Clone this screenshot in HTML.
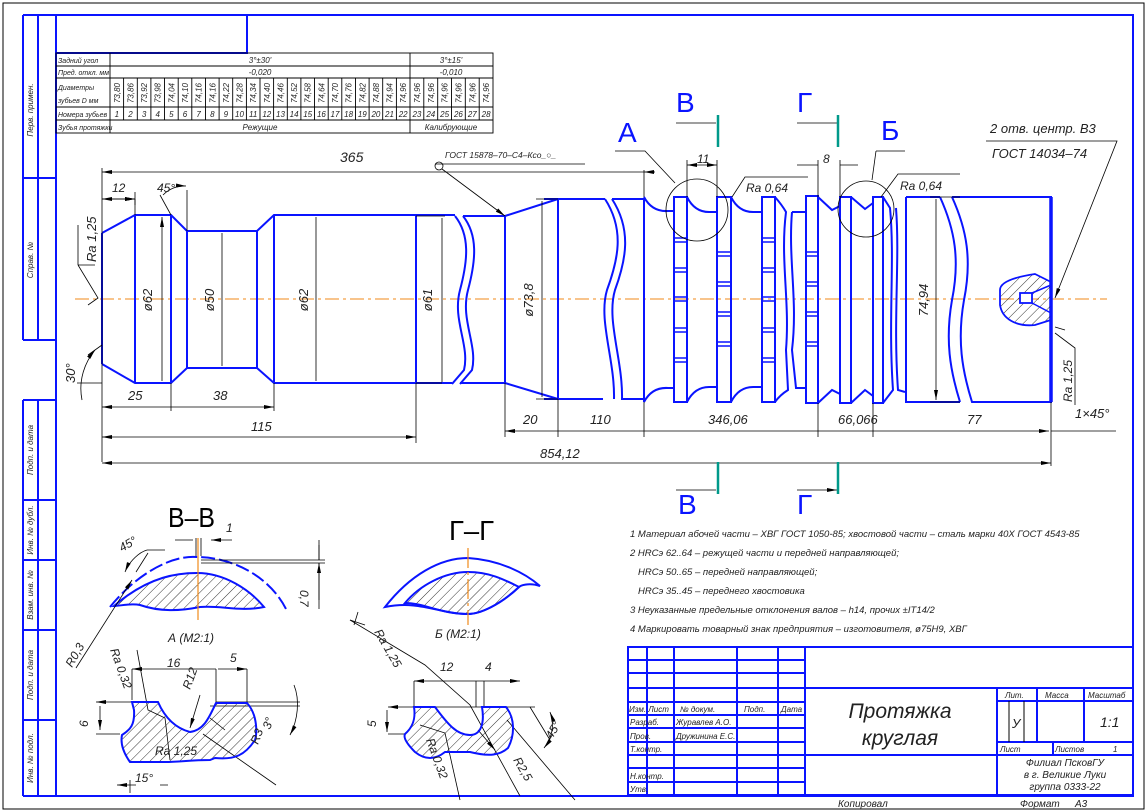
<!DOCTYPE html>
<html><head><meta charset="utf-8"><style>
html,body{margin:0;padding:0;background:#fff}
svg{display:block}
text{font-family:"Liberation Sans","DejaVu Sans",sans-serif;font-style:italic;fill:#222}
.b{stroke:#0a14ff;stroke-width:2;fill:none}
.bt{stroke:#0a14ff;stroke-width:1.5;fill:none}
.k{stroke:#000;stroke-width:0.9;fill:none}
.t{stroke:#000;stroke-width:0.8;fill:none}
.c{stroke:#f08a1a;stroke-width:1;stroke-dasharray:14 4 3 4;fill:none}
.g{stroke:#00998a;stroke-width:2.5}
.s{font-size:12px}
.m{font-size:8px}
.n{font-size:9.5px}
</style></head><body>
<svg width="1147" height="812" viewBox="0 0 1147 812" xmlns="http://www.w3.org/2000/svg">
<defs>
<marker id="a" viewBox="0 0 10 4" refX="10" refY="2" markerWidth="10" markerHeight="4" orient="auto-start-reverse" markerUnits="userSpaceOnUse"><path d="M0,0 L10,2 L0,4z" fill="#000"/></marker>
<pattern id="h" width="7" height="7" patternUnits="userSpaceOnUse" patternTransform="rotate(45)"><line x1="0" y1="0" x2="0" y2="7" stroke="#000" stroke-width="0.8"/></pattern>
</defs>
<rect x="3" y="3" width="1141" height="806" fill="none" stroke="#000" stroke-width="1"/>
<path class="b" d="M56,15 H1133 V796 H23"/>
<path class="b" d="M56,15 V796"/>
<path class="b" d="M23,15 V340 M38,15 V340 M23,15 H56 M23,178 H56 M23,340 H56"/>
<path class="b" d="M23,400 V796 M38,400 V796 M23,400 H56 M23,500 H56 M23,560 H56 M23,630 H56 M23,720 H56"/>
<text class="m" transform="translate(33,110) rotate(-90)" text-anchor="middle">Перв. примен.</text>
<text class="m" transform="translate(33,260) rotate(-90)" text-anchor="middle">Справ. №</text>
<text class="m" transform="translate(33,450) rotate(-90)" text-anchor="middle">Подп. и дата</text>
<text class="m" transform="translate(33,530) rotate(-90)" text-anchor="middle">Инв. № дубл.</text>
<text class="m" transform="translate(33,595) rotate(-90)" text-anchor="middle">Взам. инв. №</text>
<text class="m" transform="translate(33,675) rotate(-90)" text-anchor="middle">Подп. и дата</text>
<text class="m" transform="translate(33,758) rotate(-90)" text-anchor="middle">Инв. № подл.</text>
<path class="b" d="M56,53 H247 V15"/>
<g class="k">
<rect x="56" y="53" width="437" height="80"/>
<path d="M56,66 H493 M56,78 H493 M56,107 H493 M56,120 H493 M110,53 V133 M410,53 V133"/>
<path d="M123.6,78V120M137.3,78V120M150.9,78V120M164.5,78V120M178.2,78V120M191.8,78V120M205.5,78V120M219.1,78V120M232.7,78V120M246.4,78V120M260,78V120M273.6,78V120M287.3,78V120M300.9,78V120M314.5,78V120M328.2,78V120M341.8,78V120M355.5,78V120M369.1,78V120M382.7,78V120M396.4,78V120M423.8,78V120M437.7,78V120M451.5,78V120M465.3,78V120M479.2,78V120"/>
</g>
<g class="m">
<text x="58" y="63" font-size="7">Задний угол</text>
<text x="58" y="75" font-size="7">Пред. откл. мм</text>
<text x="58" y="90" font-size="7">Диаметры</text>
<text x="58" y="103" font-size="7">зубьев D мм</text>
<text x="58" y="117" font-size="7">Номера зубьев</text>
<text x="58" y="130" font-size="7">Зубья протяжки</text>
<text x="260" y="63" text-anchor="middle">3°±30'</text>
<text x="260" y="75" text-anchor="middle">-0,020</text>
<text x="451" y="63" text-anchor="middle">3°±15'</text>
<text x="451" y="75" text-anchor="middle">-0,010</text>
<text x="260" y="130" text-anchor="middle">Режущие</text>
<text x="451" y="130" text-anchor="middle">Калибрующие</text>
</g>
<g class="m" font-size="7.5">
<text transform="translate(120,93) rotate(-90)" text-anchor="middle">73,80</text>
<text transform="translate(133.5,93) rotate(-90)" text-anchor="middle">73,86</text>
<text transform="translate(147.1,93) rotate(-90)" text-anchor="middle">73,92</text>
<text transform="translate(160.7,93) rotate(-90)" text-anchor="middle">73,98</text>
<text transform="translate(174.4,93) rotate(-90)" text-anchor="middle">74,04</text>
<text transform="translate(188,93) rotate(-90)" text-anchor="middle">74,10</text>
<text transform="translate(201.6,93) rotate(-90)" text-anchor="middle">74,16</text>
<text transform="translate(215.3,93) rotate(-90)" text-anchor="middle">74,16</text>
<text transform="translate(228.9,93) rotate(-90)" text-anchor="middle">74,22</text>
<text transform="translate(242.5,93) rotate(-90)" text-anchor="middle">74,28</text>
<text transform="translate(256.2,93) rotate(-90)" text-anchor="middle">74,34</text>
<text transform="translate(269.8,93) rotate(-90)" text-anchor="middle">74,40</text>
<text transform="translate(283.5,93) rotate(-90)" text-anchor="middle">74,46</text>
<text transform="translate(297.1,93) rotate(-90)" text-anchor="middle">74,52</text>
<text transform="translate(310.7,93) rotate(-90)" text-anchor="middle">74,58</text>
<text transform="translate(324.4,93) rotate(-90)" text-anchor="middle">74,64</text>
<text transform="translate(338,93) rotate(-90)" text-anchor="middle">74,70</text>
<text transform="translate(351.6,93) rotate(-90)" text-anchor="middle">74,76</text>
<text transform="translate(365.3,93) rotate(-90)" text-anchor="middle">74,82</text>
<text transform="translate(378.9,93) rotate(-90)" text-anchor="middle">74,88</text>
<text transform="translate(392.5,93) rotate(-90)" text-anchor="middle">74,94</text>
<text transform="translate(406.2,93) rotate(-90)" text-anchor="middle">74,96</text>
<text transform="translate(419.9,93) rotate(-90)" text-anchor="middle">74,96</text>
<text transform="translate(433.8,93) rotate(-90)" text-anchor="middle">74,96</text>
<text transform="translate(447.6,93) rotate(-90)" text-anchor="middle">74,96</text>
<text transform="translate(461.4,93) rotate(-90)" text-anchor="middle">74,96</text>
<text transform="translate(475.3,93) rotate(-90)" text-anchor="middle">74,96</text>
<text transform="translate(489.1,93) rotate(-90)" text-anchor="middle">74,96</text>
</g>
<g class="m" text-anchor="middle">
<text x="116.8" y="117">1</text><text x="130.5" y="117">2</text><text x="144.1" y="117">3</text><text x="157.7" y="117">4</text><text x="171.4" y="117">5</text><text x="185" y="117">6</text><text x="198.6" y="117">7</text><text x="212.3" y="117">8</text><text x="225.9" y="117">9</text><text x="239.5" y="117">10</text><text x="253.2" y="117">11</text><text x="266.8" y="117">12</text><text x="280.5" y="117">13</text><text x="294.1" y="117">14</text><text x="307.7" y="117">15</text><text x="321.4" y="117">16</text><text x="335" y="117">17</text><text x="348.6" y="117">18</text><text x="362.3" y="117">19</text><text x="375.9" y="117">20</text><text x="389.5" y="117">21</text><text x="403.2" y="117">22</text><text x="416.9" y="117">23</text><text x="430.8" y="117">24</text><text x="444.6" y="117">25</text><text x="458.4" y="117">26</text><text x="472.3" y="117">27</text><text x="486.1" y="117">28</text>
</g>

<path class="c" d="M75,299 H1107"/>

<g class="b">
<path d="M102,233 V364 M102,233 L135,215 H171 L187,231 H257 L274,215 H416 H455 M102,364 L135,383 H171 L187,368 H257 L274,383 H416 H452"/>
<path d="M135,215 V383 M171,215 V383 M187,231 V368 M257,231 V368 M274,215 V383 M416,215 V383"/>
<path d="M455,216 C470,235 468,260 460,290 C452,320 470,345 464,370 L452,384"/>
<path d="M463,216 C478,235 476,260 468,290 C460,320 478,345 472,370 L460,384"/>
<path d="M463,216 H505 V383 H460 M505,216 L558,199 M505,383 L558,399 M544,199 H558 V399 H544"/>
<path d="M558,199 H605 M558,399 H603"/>
<path d="M605,199 C625,230 618,260 607,290 C598,320 615,360 614,399"/>
<path d="M612,199 C632,230 626,260 615,290 C606,320 623,360 622,399 H644"/>
<path d="M612,199 H644 V402 M644,197 Q652,212 668,211 H674 M644,402 Q652,387 668,388 H674"/>
<path d="M674,197 V402 H687 V197 Z M717,197 V402 H731 V197 Z M762,197 V402 H775 V197 Z M806,196 V403 H818 V196 Z M840,197 V403 H851 V197 Z M873,197 V403 H883 V197 Z"/>
<path d="M687,197 Q695,213 711,212 H717 M687,402 Q695,386 711,387 H717"/>
<path d="M731,197 Q739,213 755,212 H762 M731,402 Q739,386 755,387 H762"/>
<path d="M775,197 Q782,205 786,212 C780,260 790,300 786,350 L788,390 Q780,395 775,402"/>
<path d="M792,212 Q798,212 806,212 M792,212 C788,260 798,300 792,350 L796,388 Q800,388 806,388"/>
<path d="M818,197 L832,210 L840,206 M818,403 L832,390 L840,394"/>
<path d="M851,197 L865,209 L873,203 M851,403 L865,390 L873,396"/>
<path d="M883,197 L890,208 C895,260 888,320 893,390 L883,403 M896,208 C900,260 893,320 898,390 L905,392"/>
<path d="M906,197 V402 H960 M906,197 H940"/>
<path d="M940,197 C955,230 960,260 952,300 C945,340 950,370 960,402"/>
<path d="M952,197 C967,230 972,260 964,300 C957,340 962,370 972,402 H1051 V197 H952"/>
</g>
<path d="M1051,197 V402" stroke="#0a14ff" stroke-width="3.5"/>
<g class="bt">
<path d="M674,238 H687 M674,242 H687 M674,268 H687 M674,272 H687 M674,297 H687 M674,301 H687 M674,328 H687 M674,332 H687 M674,358 H687 M674,362 H687"/>
<path d="M717,252 H731 M717,256 H731 M717,282 H731 M717,286 H731 M717,312 H731 M717,316 H731 M717,342 H731 M717,346 H731"/>
<path d="M762,238 H775 M762,242 H775 M762,268 H775 M762,272 H775 M762,297 H775 M762,301 H775 M762,328 H775 M762,332 H775 M762,358 H775 M762,362 H775"/>
<path d="M806,252 H818 M806,256 H818 M806,282 H818 M806,286 H818 M806,312 H818 M806,316 H818 M806,342 H818 M806,346 H818"/>
</g>
<path d="M1000,290 C1000,282 1015,277 1035,274 L1051,282 V320 L1035,325 C1015,327 1002,318 1000,305 Z" fill="url(#h)" stroke="#0a14ff" stroke-width="1.8"/>
<rect x="1020" y="293" width="12" height="10" fill="#fff" stroke="#0a14ff" stroke-width="1.8"/>
<path class="bt" d="M1032,293 L1051,285 M1032,303 L1051,313"/>

<g class="t">
<path d="M102,172 H644" marker-start="url(#a)"/>
<path d="M102,168 V462 M135,199 V205 M102,199 H135" marker-end="url(#a)"/>
<path d="M102,199 H135" marker-start="url(#a)" marker-end="url(#a)"/>
<path d="M135,192 V215 M187,190 V231"/>
<path d="M102,407 H171 M171,407 H274" marker-start="url(#a)" marker-end="url(#a)"/>
<path d="M171,383 V411 M274,383 V411 M416,383 V443"/>
<path d="M102,437 H416" marker-start="url(#a)" marker-end="url(#a)"/>
<path d="M102,463 H1051" marker-start="url(#a)" marker-end="url(#a)"/>
<path d="M1051,402 V466 M505,383 V437 M558,399 V437 M644,402 V437 M818,403 V437 M873,403 V437"/>
<path d="M505,431 H558 M558,431 H644 M644,431 H818 M818,431 H873 M873,431 H1049" marker-start="url(#a)" marker-end="url(#a)"/>
<path d="M1051,431 H1116"/>
<path d="M162,217 V381 M222,233 V366 M316,217 V381 M442,218 V382 M542,201 V397 M936,199 V400" marker-start="url(#a)" marker-end="url(#a)"/>
<path d="M416,216 H445 M416,383 H442 M536,199 H558 M536,399 H558 M930,197 H960 M930,402 H960"/>
<path d="M644,170 V197 M687,160 V197 M717,160 V197 M818,160 V197 M840,160 V197"/>
<path d="M687,165 H717" marker-start="url(#a)" marker-end="url(#a)"/>
<path d="M797,165 H818 M840,165 H858" />
<path d="M655,172 H644" marker-end="url(#a)"/>
<path d="M163,195 A30,30 0 0 1 186,186" marker-end="url(#a)"/>
<path d="M160,195 L171,215"/>
<path d="M82,400 C78,380 85,362 95,350" marker-end="url(#a)"/>
<path d="M77,383 H102 M88,355 L102,345"/>
<path d="M78,265 L98,298 L88,305 M78,265 V225 M78,265 L95,265"/>
<path d="M435,164 H585"/>
<circle cx="439" cy="166" r="4"/>
<path d="M442,169 L505,216" marker-end="url(#a)"/>
<circle cx="697" cy="210" r="31"/>
<circle cx="866" cy="209" r="28"/>
<path d="M615,151 H645 L675,183 M876,151 H905 M876,151 L872,180"/>
<path d="M732,197 L745,177 H808 M881,197 L898,174 H960"/>
<path d="M676,123 H716 M797,123 H837 M676,490 H716 M797,490 H837" marker-end="url(#a)"/>
<path d="M986,141 H1117 L1055,298" marker-end="url(#a)"/>
<path d="M1055,333 L1075,348 V405"/>
<path d="M1055,327 L1065,330"/>
</g>
<path class="g" d="M718,115 V147 M838,115 V147 M718,462 V494 M838,462 V494"/>
<g>
<text x="676" y="112" font-size="28" style="fill:#0a14ff;font-style:normal">В</text>
<text x="797" y="112" font-size="28" style="fill:#0a14ff;font-style:normal">Г</text>
<text x="618" y="142" font-size="28" style="fill:#0a14ff;font-style:normal">А</text>
<text x="881" y="140" font-size="28" style="fill:#0a14ff;font-style:normal">Б</text>
<text x="678" y="514" font-size="28" style="fill:#0a14ff;font-style:normal">В</text>
<text x="797" y="514" font-size="28" style="fill:#0a14ff;font-style:normal">Г</text>
</g>
<g class="s">
<text x="340" y="162" font-size="14">365</text>
<text x="112" y="192">12</text>
<text x="157" y="192">45°</text>
<text x="128" y="400" font-size="13">25</text>
<text x="213" y="400" font-size="13">38</text>
<text x="251" y="431" font-size="13">115</text>
<text x="540" y="458" font-size="13">854,12</text>
<text x="523" y="424" font-size="13">20</text>
<text x="590" y="424" font-size="13">110</text>
<text x="708" y="424" font-size="13">346,06</text>
<text x="838" y="424" font-size="13">66,066</text>
<text x="967" y="424" font-size="13">77</text>
<text x="1075" y="418" font-size="13">1×45°</text>
<text x="697" y="163">11</text>
<text x="823" y="163">8</text>
<text x="746" y="192">Ra 0,64</text>
<text x="900" y="190">Ra 0,64</text>
<text x="445" y="158" font-size="8.5">ГОСТ 15878–70–С4–Ксо_○_</text>
<text x="990" y="133" font-size="13">2 отв. центр. В3</text>
<text x="992" y="158" font-size="13">ГОСТ 14034–74</text>
<text transform="translate(96,262) rotate(-90)" font-size="13">Ra 1,25</text>
<text transform="translate(75,383) rotate(-90)" font-size="13">30°</text>
<text transform="translate(1072,402) rotate(-90)" font-size="12">Ra 1,25</text>
<text transform="translate(152,300) rotate(-90)" text-anchor="middle" font-size="13">ø62</text>
<text transform="translate(214,300) rotate(-90)" text-anchor="middle" font-size="13">ø50</text>
<text transform="translate(308,300) rotate(-90)" text-anchor="middle" font-size="13">ø62</text>
<text transform="translate(432,300) rotate(-90)" text-anchor="middle" font-size="13">ø61</text>
<text transform="translate(533,300) rotate(-90)" text-anchor="middle" font-size="13">ø73,8</text>
<text transform="translate(928,300) rotate(-90)" text-anchor="middle" font-size="13">74,94</text>
</g>

<g class="n">
<text x="630" y="537">1 Материал абочей части – ХВГ ГОСТ 1050-85; хвостовой части – сталь марки 40Х ГОСТ 4543-85</text>
<text x="630" y="556">2 HRCэ 62..64 – режущей части и передней направляющей;</text>
<text x="638" y="575">HRCэ 50..65 – передней направляющей;</text>
<text x="638" y="594">HRCэ 35..45 – переднего хвостовика</text>
<text x="630" y="613">3 Неуказанные предельные отклонения валов – h14, прочих ±IT14/2</text>
<text x="630" y="632">4 Маркировать товарный знак предприятия – изготовителя, ø75Н9, ХВГ</text>
</g>

<text x="168" y="527" font-size="28" textLength="47" lengthAdjust="spacingAndGlyphs" style="font-style:normal;fill:#000">В–В</text>
<path d="M110,607 C140,570 175,555 197,557 C230,557 270,575 287,611" stroke="#0a14ff" stroke-width="2" stroke-dasharray="14 4" fill="none"/>
<path d="M114,606 C150,575 180,573 197,573 C225,573 250,590 264,607 C240,612 220,605 200,607 C180,611 160,612 140,605 C130,603 120,606 114,606 Z" fill="url(#h)" stroke="#0a14ff" stroke-width="2"/>
<path d="M198,538 V620" stroke="#f08a1a" stroke-width="1.2"/>
<g class="t">
<path d="M175,540 H193 M232,540 H211" marker-end="url(#a)"/>
<path d="M196,538 V556 M201,538 V556 M201,560 H325 M201,563 H325 M319,540 V560 M319,609 V563 M319,563 V608" />
<path d="M319,545 V560 M319,600 V563" marker-end="url(#a)"/>
<path d="M125,572 C130,560 140,552 147,550" marker-start="url(#a)"/>
<path d="M147,550 H165 M136,572 L148,553"/>
<path d="M76,668 L132,580" marker-end="url(#a)"/>
</g>
<text x="226" y="532" class="s" font-size="13">1</text>
<text x="122" y="552" class="s" font-size="13" transform="rotate(-30 122 552)">45°</text>
<text transform="translate(300,590) rotate(90)" class="s" font-size="13">0,7</text>
<text transform="translate(72,668) rotate(-60)" class="s" font-size="13">R0,3</text>
<text x="168" y="642" class="s" font-size="13">А (М2:1)</text>

<g class="t">
<path d="M132,669 H216 M218,669 H247" marker-start="url(#a)" marker-end="url(#a)"/>
<path d="M132,669 V700 M216,669 V702 M247,669 V702"/>
<path d="M96,702 H140 M96,734 H120 M100,706 V730" marker-start="url(#a)" marker-end="url(#a)"/>
<path d="M216,702 H300 M210,706 H300"/>
<path d="M294,685 C300,700 298,720 290,735" marker-end="url(#a)"/>
<path d="M137,650 L148,710 L165,718 L170,760"/>
<path d="M200,695 L190,728" marker-end="url(#a)"/>
<path d="M203,734 L276,785 M210,718 L225,730"/>
<path d="M117,785 H136 M160,785 H168" marker-start="url(#a)"/>
<path d="M130,780 V793"/>
</g>
<path d="M132,702 H158 C165,718 175,728 190,732 C205,730 210,715 216,703 H247 C258,715 257,735 255,740 C245,755 235,760 215,758 L210,760 C190,760 180,762 165,762 H130 C125,755 120,745 122,735 C130,730 135,725 134,710 Z" fill="url(#h)" stroke="#0a14ff" stroke-width="2"/>
<g class="s" font-size="13">
<text x="167" y="667">16</text>
<text x="230" y="662">5</text>
<text transform="translate(88,727) rotate(-90)">6</text>
<text transform="translate(110,650) rotate(70)">Ra 0,32</text>
<text transform="translate(190,690) rotate(-70)">R12</text>
<text x="155" y="755">Ra 1,25</text>
<text transform="translate(258,745) rotate(-70)">R3</text>
<text transform="translate(270,730) rotate(-70)">3°</text>
<text x="135" y="782">15°</text>
</g>

<text x="449" y="540" font-size="28" textLength="45" lengthAdjust="spacingAndGlyphs" style="font-style:normal;fill:#000">Г–Г</text>
<path d="M385,607 C410,575 440,558 468,558 C500,560 525,573 540,586 C528,582 520,586 519,587 C500,605 480,614 468,614 C440,614 420,600 385,607 Z" fill="none" stroke="#0a14ff" stroke-width="2"/>
<path d="M405,603 C420,585 445,572 468,572 C490,572 505,580 519,587 C500,605 480,614 468,614 C440,614 425,603 405,603 Z" fill="url(#h)" stroke="#0a14ff" stroke-width="2"/>
<path d="M468,548 V625" stroke="#f08a1a" stroke-width="1.2" stroke-dasharray="20 4 3 4"/>
<text x="435" y="638" class="s" font-size="13">Б (М2:1)</text>
<g class="t">
<path d="M350,620 L425,665 L470,705 L520,796"/>
<path d="M358,612 L354,625 M350,620 L365,625"/>
<path d="M414,681 H456 M456,681 H484 M484,681 H520" marker-start="url(#a)" marker-end="url(#a)"/>
<path d="M414,681 V710 M476,681 V707 M484,681 V707"/>
<path d="M388,707 H535 M388,734 H405 M387,710 V732" marker-start="url(#a)" marker-end="url(#a)"/>
<path d="M507,720 L575,800 M530,707 L550,740" />
<path d="M550,712 C555,725 552,738 544,748" marker-start="url(#a)" marker-end="url(#a)"/>
<path d="M420,725 L445,733 L460,800"/>
<path d="M478,730 L495,750" marker-end="url(#a)"/>
</g>
<path d="M414,707 H435 C445,720 455,735 470,735 C480,735 485,725 482,707 H506 C515,718 515,735 508,748 C500,755 490,757 470,752 L445,752 C435,760 425,760 415,752 C408,745 403,738 405,734 C412,728 416,720 414,707 Z" fill="url(#h)" stroke="#0a14ff" stroke-width="2"/>
<g class="s" font-size="13">
<text transform="translate(374,632) rotate(60)">Ra 1,25</text>
<text x="440" y="671">12</text>
<text x="485" y="671">4</text>
<text transform="translate(376,727) rotate(-90)">5</text>
<text transform="translate(426,740) rotate(70)">Ra 0,32</text>
<text transform="translate(513,760) rotate(60)">R2,5</text>
<text transform="translate(552,740) rotate(-60)">45°</text>
</g>

<g class="b">
<rect x="628" y="647" width="505" height="148"/>
<path d="M647,647 V795 M674,647 V795 M737,647 V795 M778,647 V795 M805,647 V795"/>
<path d="M628,660 H805 M628,673 H805 M628,688 H805 M628,702 H805 M628,715 H805 M628,728 H805 M628,742 H805 M628,755 H805 M628,768 H805 M628,782 H805"/>
<path d="M805,688 H1133 M805,755 H1133 M997,688 V795 M997,701 H1133 M997,742 H1133"/>
<path d="M1037,688 V742 M1084,688 V742 M1053,742 V755"/>
</g>
<path d="M1009,701 V742 M1024,701 V742" stroke="#000" stroke-width="1"/>
<g class="m" font-size="8.5">
<text x="629" y="712">Изм. Лист</text>
<text x="680" y="712">№ докум.</text>
<text x="744" y="712">Подп.</text>
<text x="781" y="712">Дата</text>
<text x="630" y="725">Разраб.</text>
<text x="676" y="725">Журавлев А.О.</text>
<text x="630" y="739">Пров.</text>
<text x="676" y="739">Дружинина Е.С.</text>
<text x="630" y="752">Т.контр.</text>
<text x="630" y="779">Н.контр.</text>
<text x="630" y="792">Утв.</text>
<text x="1005" y="698">Лит.</text>
<text x="1045" y="698">Масса</text>
<text x="1088" y="698">Масштаб</text>
<text x="1000" y="752">Лист</text>
<text x="1055" y="752">Листов</text>
<text x="1113" y="752">1</text>
<text x="1065" y="766" text-anchor="middle" font-size="10">Филиал ПсковГУ</text>
<text x="1065" y="778" text-anchor="middle" font-size="10">в г. Великие Луки</text>
<text x="1065" y="790" text-anchor="middle" font-size="10">группа 0333-22</text>
<text x="838" y="807" font-size="10">Копировал</text>
<text x="1020" y="807" font-size="10">Формат</text>
<text x="1075" y="807" font-size="10">А3</text>
</g>
<text x="1012" y="728" font-size="13">У</text>
<text x="1100" y="727" font-size="14">1:1</text>
<text x="900" y="718" text-anchor="middle" font-size="21">Протяжка</text>
<text x="900" y="745" text-anchor="middle" font-size="21">круглая</text>
</svg>
</body></html>
